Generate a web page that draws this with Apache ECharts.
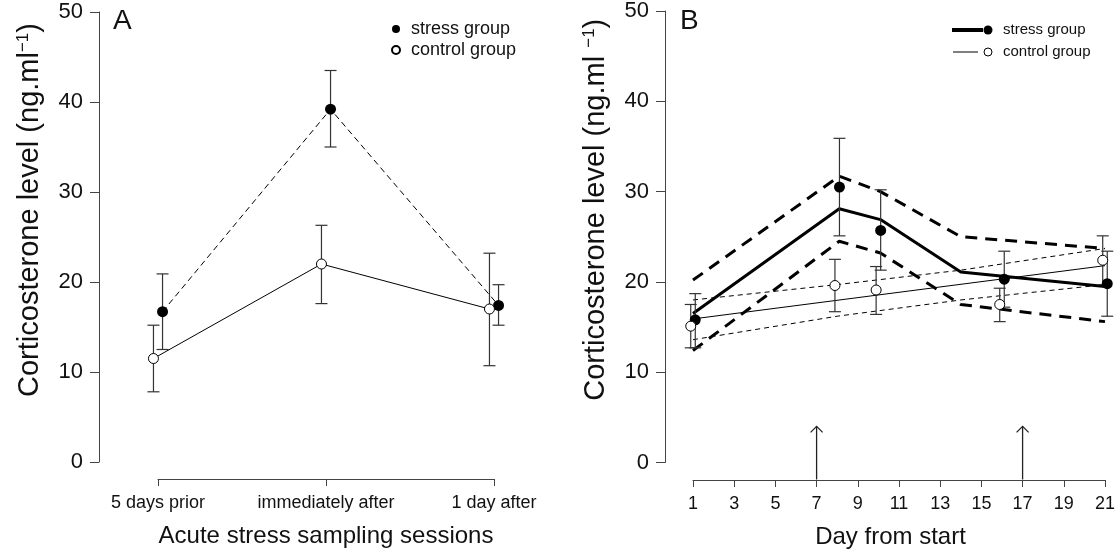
<!DOCTYPE html>
<html>
<head>
    <meta charset="UTF-8">
    <title>Corticosterone level</title>
    <script src="https://cdn.jsdelivr.net/npm/echarts@6.0.0/dist/echarts.min.js"></script>
</head>
<body style="margin:0; background:#fff;">
    <div id="chart" style="width:1118px; height:555px;"></div>

    <script>
        // panel A: acute stress sessions
        var sessions = ['5 days prior', 'immediately after', '1 day after'];
        var stressA = [16.7, 39.2, 17.4];
        var stressAHi = [20.9, 43.5, 19.7];
        var stressALo = [12.5, 35.0, 15.2];
        var controlA = [11.5, 22.0, 17.0];
        var controlAHi = [15.2, 26.3, 23.2];
        var controlALo = [7.8, 17.6, 10.7];

        // panel B: samples by day
        var sampleDays = [1, 8, 10, 16, 21];
        var stressB = [15.8, 30.5, 25.7, 20.3, 19.8];
        var stressBHi = [18.7, 35.9, 30.2, 23.4, 23.4];
        var stressBLo = [12.7, 25.1, 21.3, 17.2, 16.2];
        var controlB = [15.1, 19.6, 19.1, 17.5, 22.4];
        var controlBHi = [17.5, 22.5, 21.7, 19.3, 25.1];
        var controlBLo = [12.7, 16.7, 16.4, 15.6, 19.7];

        // fitted curves and bands (panel B)
        var stressFitDays = [1, 8.1, 10.1, 14, 21];
        var stressFit = [16.5, 28.1, 26.9, 21.1, 19.5];
        var stressFitHi = [20.2, 31.7, 30.0, 25.0, 23.7];
        var stressFitLo = [12.4, 24.5, 23.2, 17.5, 15.6];
        var controlFitDays = [1, 21];
        var controlFit = [15.9, 21.8];
        var controlBandDays = [1, 8, 14, 21];
        var controlFitHi = [18.0, 19.7, 21.3, 23.7];
        var controlFitLo = [13.6, 16.2, 18.0, 19.7];

        // stressor days (arrows) and tick labels
        var stressorDays = [7, 17];
        var dayTicks = [1, 3, 5, 7, 9, 11, 13, 15, 17, 19, 21];
        var sessionTicks = [1, 2, 3];

        var FONT = 'Liberation Sans';
        var INK = '#111';
        var AXIS = '#444';
        var dodgeA = 0.027;
        var dodgeB = 0.11;
        var arrowTop = 4;

        function pairs(xs, ys, shift) {
            return ys.map(function (y, i) { return [xs[i] + (shift || 0), y]; });
        }
        function bars(xs, lo, hi, shift) {
            return xs.map(function (x, i) { return [x + shift, lo[i], hi[i]]; });
        }

        function errRender(params, api) {
            var x = api.value(0);
            var lo = api.coord([x, api.value(1)]);
            var hi = api.coord([x, api.value(2)]);
            var w = 6;
            var st = { stroke: '#333', lineWidth: 1.2 };
            return {
                type: 'group',
                children: [
                    { type: 'line', shape: { x1: lo[0], y1: lo[1], x2: hi[0], y2: hi[1] }, style: st },
                    { type: 'line', shape: { x1: hi[0] - w, y1: hi[1], x2: hi[0] + w, y2: hi[1] }, style: st },
                    { type: 'line', shape: { x1: lo[0] - w, y1: lo[1], x2: lo[0] + w, y2: lo[1] }, style: st }
                ]
            };
        }

        function arrowRender(params, api) {
            var d = api.value(0);
            var base = api.coord([d, 0]);
            var tip = api.coord([d, api.value(1)]);
            var y0 = base[1] + 17;
            var st = { stroke: '#222', lineWidth: 1.3 };
            return {
                type: 'group',
                children: [
                    { type: 'line', shape: { x1: tip[0], y1: y0, x2: tip[0], y2: tip[1] }, style: st },
                    { type: 'polyline', shape: { points: [[tip[0] - 6, tip[1] + 6], [tip[0], tip[1]], [tip[0] + 6, tip[1] + 6]] }, style: { stroke: '#222', lineWidth: 1.3, fill: null } }
                ]
            };
        }

        function yName(sep) {
            return '{t|Corticosterone level (ng.ml' + sep + '}{s|\u22121}{t|)}';
        }
        var yNameStyle = {
            padding: [0, 0, 0, 54],
            rich: {
                t: { fontSize: 29, color: INK, fontFamily: FONT },
                s: { fontSize: 17, color: INK, fontFamily: FONT, verticalAlign: 'top' }
            }
        };

        function yAxisOf(grid, offset) {
            return {
                gridIndex: grid, type: 'value', min: 0, max: 50, interval: 10, offset: offset,
                axisLine: { show: true, lineStyle: { color: AXIS } },
                axisTick: { show: true, length: 9, lineStyle: { color: AXIS } },
                axisLabel: { fontSize: 22, margin: 16, color: INK, fontFamily: FONT },
                splitLine: { show: false },
                name: yName(grid === 0 ? '' : ' '), nameLocation: 'middle', nameGap: 55,
                nameTextStyle: yNameStyle
            };
        }

        var chart = echarts.init(document.getElementById('chart'), null, { renderer: 'canvas' });

        var option = {
            animation: false,
            backgroundColor: '#fff',
            textStyle: { fontFamily: FONT },
            title: [
                { text: 'A', left: 113, top: 7, padding: 0, textStyle: { fontSize: 28, fontWeight: 'normal', color: INK, fontFamily: FONT } },
                { text: 'B', left: 680, top: 7, padding: 0, textStyle: { fontSize: 28, fontWeight: 'normal', color: INK, fontFamily: FONT } }
            ],
            legend: {
                data: [{ name: 'stress group', icon: 'circle' }, { name: 'control group', icon: 'circle' }],
                orient: 'vertical', left: 386, top: 15, itemWidth: 14, itemHeight: 8, itemGap: 3,
                selectedMode: false,
                textStyle: { fontSize: 18, lineHeight: 18, color: INK, fontFamily: FONT, padding: [0, 0, 0, 3] }
            },
            grid: [
                { left: 158, top: 12, width: 336, height: 450 },
                { left: 693, top: 11, width: 415, height: 451.5 }
            ],
            xAxis: [
                {
                    gridIndex: 0, type: 'value', min: 1, max: 3, offset: 17,
                    axisLine: { onZero: false, lineStyle: { color: AXIS } },
                    axisTick: { length: 7, customValues: sessionTicks, lineStyle: { color: AXIS } },
                    axisLabel: {
                        fontSize: 18, margin: 15, color: INK, fontFamily: FONT, customValues: sessionTicks,
                        formatter: function (v) { return sessions[Math.round(v) - 1]; }
                    },
                    splitLine: { show: false },
                    name: 'Acute stress sampling sessions', nameLocation: 'middle', nameGap: 45,
                    nameTextStyle: { fontSize: 24, color: INK, fontFamily: FONT }
                },
                {
                    gridIndex: 1, type: 'value', min: 1, max: 21, offset: 17.5,
                    axisLine: { onZero: false, lineStyle: { color: AXIS } },
                    axisTick: { length: 7, customValues: dayTicks, lineStyle: { color: AXIS } },
                    axisLabel: { fontSize: 18, margin: 15, color: INK, fontFamily: FONT, customValues: dayTicks },
                    splitLine: { show: false },
                    name: 'Day from start', nameLocation: 'middle', nameGap: 45,
                    nameTextStyle: { fontSize: 24, color: INK, fontFamily: FONT, padding: [0, 17, 0, 0] }
                }
            ],
            yAxis: [yAxisOf(0, 59), yAxisOf(1, 28)],
            graphic: [
                { type: 'line', shape: { x1: 952, y1: 30, x2: 983, y2: 30 }, style: { stroke: '#000', lineWidth: 4 } },
                { type: 'circle', shape: { cx: 988, cy: 30, r: 4.5 }, style: { fill: '#000' } },
                { type: 'text', x: 1003, y: 30, style: { text: 'stress group', fontSize: 15, fontFamily: FONT, fill: INK, verticalAlign: 'middle' } },
                { type: 'line', shape: { x1: 953, y1: 52, x2: 978, y2: 52 }, style: { stroke: '#000', lineWidth: 1 } },
                { type: 'circle', shape: { cx: 988, cy: 52, r: 4 }, style: { fill: '#fff', stroke: '#000', lineWidth: 1 } },
                { type: 'text', x: 1003, y: 52, style: { text: 'control group', fontSize: 15, fontFamily: FONT, fill: INK, verticalAlign: 'middle' } }
            ],
            series: [
                // panel A
                {
                    type: 'custom', name: 'stress A err', xAxisIndex: 0, yAxisIndex: 0, z: 2,
                    data: bars(sessionTicks, stressALo, stressAHi, dodgeA),
                    encode: { x: 0, y: [1, 2] }, renderItem: errRender, clip: false
                },
                {
                    type: 'custom', name: 'control A err', xAxisIndex: 0, yAxisIndex: 0, z: 2,
                    data: bars(sessionTicks, controlALo, controlAHi, -dodgeA),
                    encode: { x: 0, y: [1, 2] }, renderItem: errRender, clip: false
                },
                {
                    type: 'line', name: 'stress group', xAxisIndex: 0, yAxisIndex: 0, z: 3, clip: false,
                    data: pairs(sessionTicks, stressA, dodgeA),
                    symbol: 'circle', symbolSize: 11,
                    itemStyle: { color: '#000' },
                    lineStyle: { color: '#000', width: 1, type: [6, 4] }
                },
                {
                    type: 'line', name: 'control group', xAxisIndex: 0, yAxisIndex: 0, z: 3, clip: false,
                    data: pairs(sessionTicks, controlA, -dodgeA),
                    symbol: 'circle', symbolSize: 10,
                    itemStyle: { color: '#fff', borderColor: '#000', borderWidth: 1 },
                    lineStyle: { color: '#000', width: 1 }
                },
                // panel B fits
                {
                    type: 'line', name: 'stress fit', xAxisIndex: 1, yAxisIndex: 1, z: 2, clip: false,
                    data: pairs(stressFitDays, stressFit), symbol: 'none',
                    lineStyle: { color: '#000', width: 3 }
                },
                {
                    type: 'line', name: 'stress fit hi', xAxisIndex: 1, yAxisIndex: 1, z: 2, clip: false,
                    data: pairs(stressFitDays, stressFitHi), symbol: 'none',
                    lineStyle: { color: '#000', width: 3, type: [12, 8] }
                },
                {
                    type: 'line', name: 'stress fit lo', xAxisIndex: 1, yAxisIndex: 1, z: 2, clip: false,
                    data: pairs(stressFitDays, stressFitLo), symbol: 'none',
                    lineStyle: { color: '#000', width: 3, type: [12, 8] }
                },
                {
                    type: 'line', name: 'control fit', xAxisIndex: 1, yAxisIndex: 1, z: 2, clip: false,
                    data: pairs(controlFitDays, controlFit), symbol: 'none',
                    lineStyle: { color: '#000', width: 1 }
                },
                {
                    type: 'line', name: 'control fit hi', xAxisIndex: 1, yAxisIndex: 1, z: 2, clip: false,
                    data: pairs(controlBandDays, controlFitHi), symbol: 'none',
                    lineStyle: { color: '#000', width: 1, type: [5, 4] }
                },
                {
                    type: 'line', name: 'control fit lo', xAxisIndex: 1, yAxisIndex: 1, z: 2, clip: false,
                    data: pairs(controlBandDays, controlFitLo), symbol: 'none',
                    lineStyle: { color: '#000', width: 1, type: [5, 4] }
                },
                // panel B samples
                {
                    type: 'custom', name: 'stress B err', xAxisIndex: 1, yAxisIndex: 1, z: 3,
                    data: bars(sampleDays, stressBLo, stressBHi, dodgeB),
                    encode: { x: 0, y: [1, 2] }, renderItem: errRender, clip: false
                },
                {
                    type: 'custom', name: 'control B err', xAxisIndex: 1, yAxisIndex: 1, z: 3,
                    data: bars(sampleDays, controlBLo, controlBHi, -dodgeB),
                    encode: { x: 0, y: [1, 2] }, renderItem: errRender, clip: false
                },
                {
                    type: 'scatter', name: 'stress B', xAxisIndex: 1, yAxisIndex: 1, z: 4, clip: false,
                    data: pairs(sampleDays, stressB, dodgeB), symbol: 'circle', symbolSize: 11,
                    itemStyle: { color: '#000', opacity: 1 }
                },
                {
                    type: 'scatter', name: 'control B', xAxisIndex: 1, yAxisIndex: 1, z: 4, clip: false,
                    data: pairs(sampleDays, controlB, -dodgeB), symbol: 'circle', symbolSize: 10,
                    itemStyle: { color: '#fff', borderColor: '#000', borderWidth: 1, opacity: 1 }
                },
                {
                    type: 'custom', name: 'stressors', xAxisIndex: 1, yAxisIndex: 1, z: 2,
                    data: stressorDays.map(function (d) { return [d, arrowTop]; }),
                    encode: { x: 0, y: 1 }, renderItem: arrowRender, clip: false
                }
            ]
        };

        chart.setOption(option);
    </script>
</body>
</html>
